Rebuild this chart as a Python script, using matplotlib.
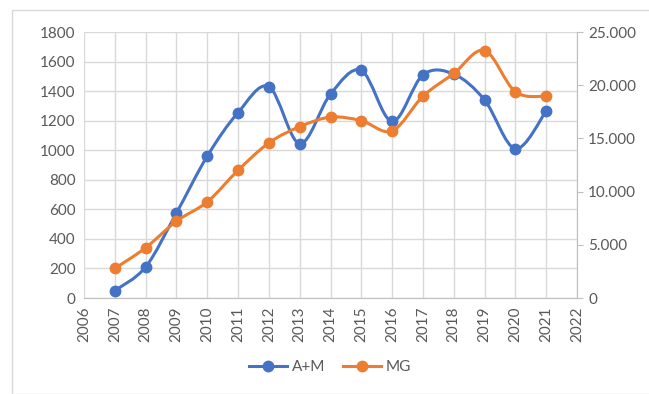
import numpy as np
import matplotlib
matplotlib.use("Agg")
import matplotlib.pyplot as plt
from matplotlib.path import Path
from matplotlib.patches import PathPatch, Rectangle
from matplotlib.ticker import FuncFormatter, MultipleLocator

# Data
years = [2007, 2008, 2009, 2010, 2011, 2012, 2013, 2014, 2015, 2016, 2017, 2018, 2019, 2020, 2021]
am_values = [50, 210, 575, 960, 1255, 1430, 1045, 1380, 1540, 1195, 1510, 1515, 1340, 1010, 1265]
mg_values = [2780, 4720, 7220, 9030, 12000, 14580, 16100, 17000, 16670, 15700, 18960, 21100, 23260, 19380, 18960]
x_ticks = list(range(2006, 2023))
series_labels = ["A+M", "MG"]

BLUE = "#4472C4"
ORANGE = "#ED7D31"
GRID = "#D9D9D9"
TEXT = "#595959"

plt.rcParams["font.family"] = ["Lato", "DejaVu Sans"]


def smooth_path(xs, ys):
    """Bezier path through the points, with the tangent rule used for smoothed chart lines."""
    xs = np.asarray(xs, float)
    ys = np.asarray(ys, float)
    n = len(xs)
    verts = [(xs[0], ys[0])]
    codes = [Path.MOVETO]
    for i in range(n - 1):
        p0 = (xs[max(i - 1, 0)], ys[max(i - 1, 0)])
        p1 = (xs[i], ys[i])
        p2 = (xs[i + 1], ys[i + 1])
        p3 = (xs[min(i + 2, n - 1)], ys[min(i + 2, n - 1)])
        c1 = (p1[0] + (p2[0] - p0[0]) / 6, p1[1] + (p2[1] - p0[1]) / 6)
        c2 = (p2[0] - (p3[0] - p1[0]) / 6, p2[1] - (p3[1] - p1[1]) / 6)
        verts += [c1, c2, p2]
        codes += [Path.CURVE4] * 3
    return Path(verts, codes)


fig = plt.figure(figsize=(6.49, 3.94), dpi=100)
fig.patches.append(Rectangle((12 / 649, 0), 1.0, 1 - 10 / 394, transform=fig.transFigure,
                             fill=False, edgecolor="#D9D9D9", linewidth=1.0))

ax = fig.add_axes([84 / 649, 1 - 298 / 394, (577 - 84) / 649, (298 - 32) / 394])
ax2 = ax.twinx()

ax.set_xlim(2006, 2022)
ax.set_ylim(0, 1800)
ax2.set_ylim(0, 25000)

ax.set_xticks(x_ticks)
ax.set_xticklabels([str(t) for t in x_ticks], rotation=90)
ax.yaxis.set_major_locator(MultipleLocator(200))
ax2.yaxis.set_major_locator(MultipleLocator(5000))
ax2.yaxis.set_major_formatter(FuncFormatter(lambda v, p: "0" if v == 0 else f"{int(v):,}".replace(",", ".")))

ax.grid(True, color=GRID, linewidth=1.0)
ax.set_axisbelow(True)
for a in (ax, ax2):
    for s in a.spines.values():
        s.set_visible(False)
ax2.spines["right"].set_visible(True)
ax2.spines["right"].set_color("#BFBFBF")
ax.spines["bottom"].set_visible(True)
ax.spines["bottom"].set_color("#BFBFBF")

ax.tick_params(axis="x", length=0, labelsize=11, labelcolor=TEXT, pad=6)
ax.tick_params(axis="y", length=0, labelsize=11, labelcolor=TEXT, pad=6)
ax2.tick_params(axis="y", length=4, color="#BFBFBF", labelsize=11, labelcolor=TEXT, pad=4)

# A+M on the left axis
ax.add_patch(PathPatch(smooth_path(years, am_values), fill=False, edgecolor=BLUE, linewidth=2.2,
                       transform=ax.transData, zorder=3, capstyle="round", joinstyle="round"))
ax.plot(years, am_values, linestyle="none", marker="o", markersize=7.5, color=BLUE, zorder=4)

# MG on the right axis
ax2.add_patch(PathPatch(smooth_path(years, mg_values), fill=False, edgecolor=ORANGE, linewidth=2.2,
                        transform=ax2.transData, zorder=3, capstyle="round", joinstyle="round"))
ax2.plot(years, mg_values, linestyle="none", marker="o", markersize=7.5, color=ORANGE, zorder=4)

handles = [
    plt.Line2D([], [], color=BLUE, linewidth=2.2, marker="o", markersize=7.5),
    plt.Line2D([], [], color=ORANGE, linewidth=2.2, marker="o", markersize=7.5),
]
fig.legend(handles, series_labels, loc="center", bbox_to_anchor=(330 / 649, 1 - 367 / 394),
           ncol=2, frameon=False, fontsize=11, labelcolor=TEXT, handlelength=2.5,
           handletextpad=0.3, columnspacing=1.2)

fig.savefig("out.png", dpi=100)
